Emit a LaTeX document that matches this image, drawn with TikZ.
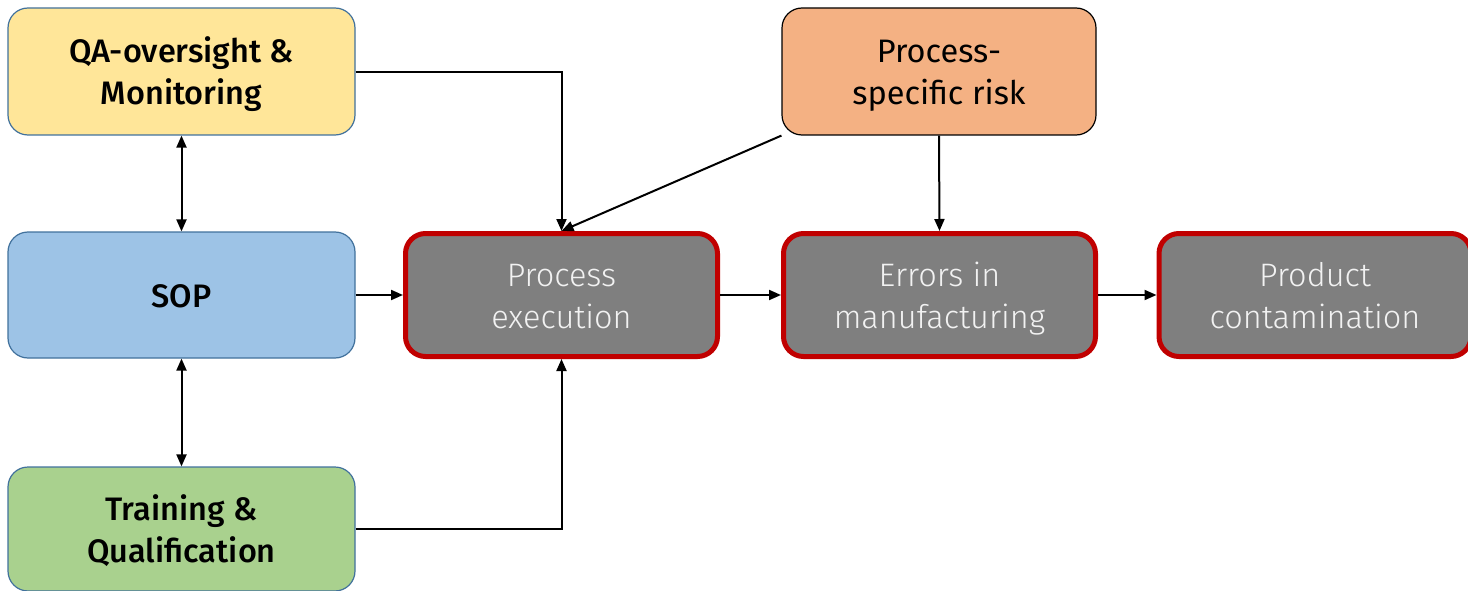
\documentclass[tikz,border=0pt]{standalone}
\usepackage{fontspec}
\setmainfont{Fira Sans}
\newfontfamily\boldf{Fira Sans Medium}
\newfontfamily\lightf{Fira Sans Light}
\newfontfamily\regf{Fira Sans}
\usetikzlibrary{arrows.meta}
\definecolor{qa}{HTML}{FFE699}
\definecolor{sop}{HTML}{9DC3E6}
\definecolor{trn}{HTML}{A9D18E}
\definecolor{risk}{HTML}{F4B183}
\definecolor{bord}{HTML}{41719C}
\definecolor{redb}{HTML}{C00000}
\definecolor{grayf}{HTML}{7F7F7F}
\newcommand\tstrut{\rule[-8.6pt]{0pt}{42pt}}
\begin{document}
\begin{tikzpicture}[x=1pt,y=-1pt,
  inbox/.style={draw=bord,line width=1.2pt,rounded corners=20pt,align=center,
    font=\boldf\fontsize{32.5}{42}\selectfont,inner sep=0pt},
  outbox/.style={draw=redb,line width=5pt,fill=grayf,rounded corners=20pt,align=center,
    text=white!95!black,font=\lightf\fontsize{32.5}{42}\selectfont,inner sep=0pt},
  arr/.style={line width=2pt,-{Triangle[length=12pt,width=10pt]}},
  darr/.style={line width=2pt,{Triangle[length=12pt,width=10pt]}-{Triangle[length=12pt,width=10pt]}}]
\useasboundingbox (0,0) rectangle (1468,591);
\node[inbox,fill=qa,minimum width=347pt,minimum height=127pt] (qa) at (181.5,71.5) {\tstrut QA-oversight \&\\\tstrut Monitoring};
\node[inbox,fill=sop,minimum width=347pt,minimum height=126pt] (sop) at (181.5,295) {\tstrut SOP};
\node[inbox,fill=trn,minimum width=347pt,minimum height=124pt] (trn) at (181.5,529) {\tstrut Training \&\\\tstrut Qualification};
\node[inbox,draw=black,fill=risk,minimum width=314pt,minimum height=127pt,font=\regf\fontsize{32.5}{42}\selectfont] (risk) at (939,71.5) {\tstrut Process-\\\tstrut specific risk};
\node[outbox,minimum width=312pt,minimum height=123pt] (pe) at (561.5,295) {\tstrut Process\\\tstrut execution};
\node[outbox,minimum width=312pt,minimum height=123pt] (em) at (939.5,295) {\tstrut Errors in\\\tstrut manufacturing};
\node[outbox,minimum width=312pt,minimum height=123pt] (pc) at (1315,295) {\tstrut Product\\\tstrut contamination};
\draw[arr] (qa.east |- 0,72) -| (pe.north);
\draw[arr] (risk.south west) -- (pe.north);
\draw[arr] (risk.south) -- (em.north);
\draw[darr] (qa.south) -- (sop.north);
\draw[darr] (sop.south) -- (trn.north);
\draw[arr] (sop.east) -- (pe.west);
\draw[arr] (trn.east) -| (pe.south);
\draw[arr] (pe.east) -- (em.west);
\draw[arr] (em.east) -- (pc.west);
\end{tikzpicture}
\end{document}
